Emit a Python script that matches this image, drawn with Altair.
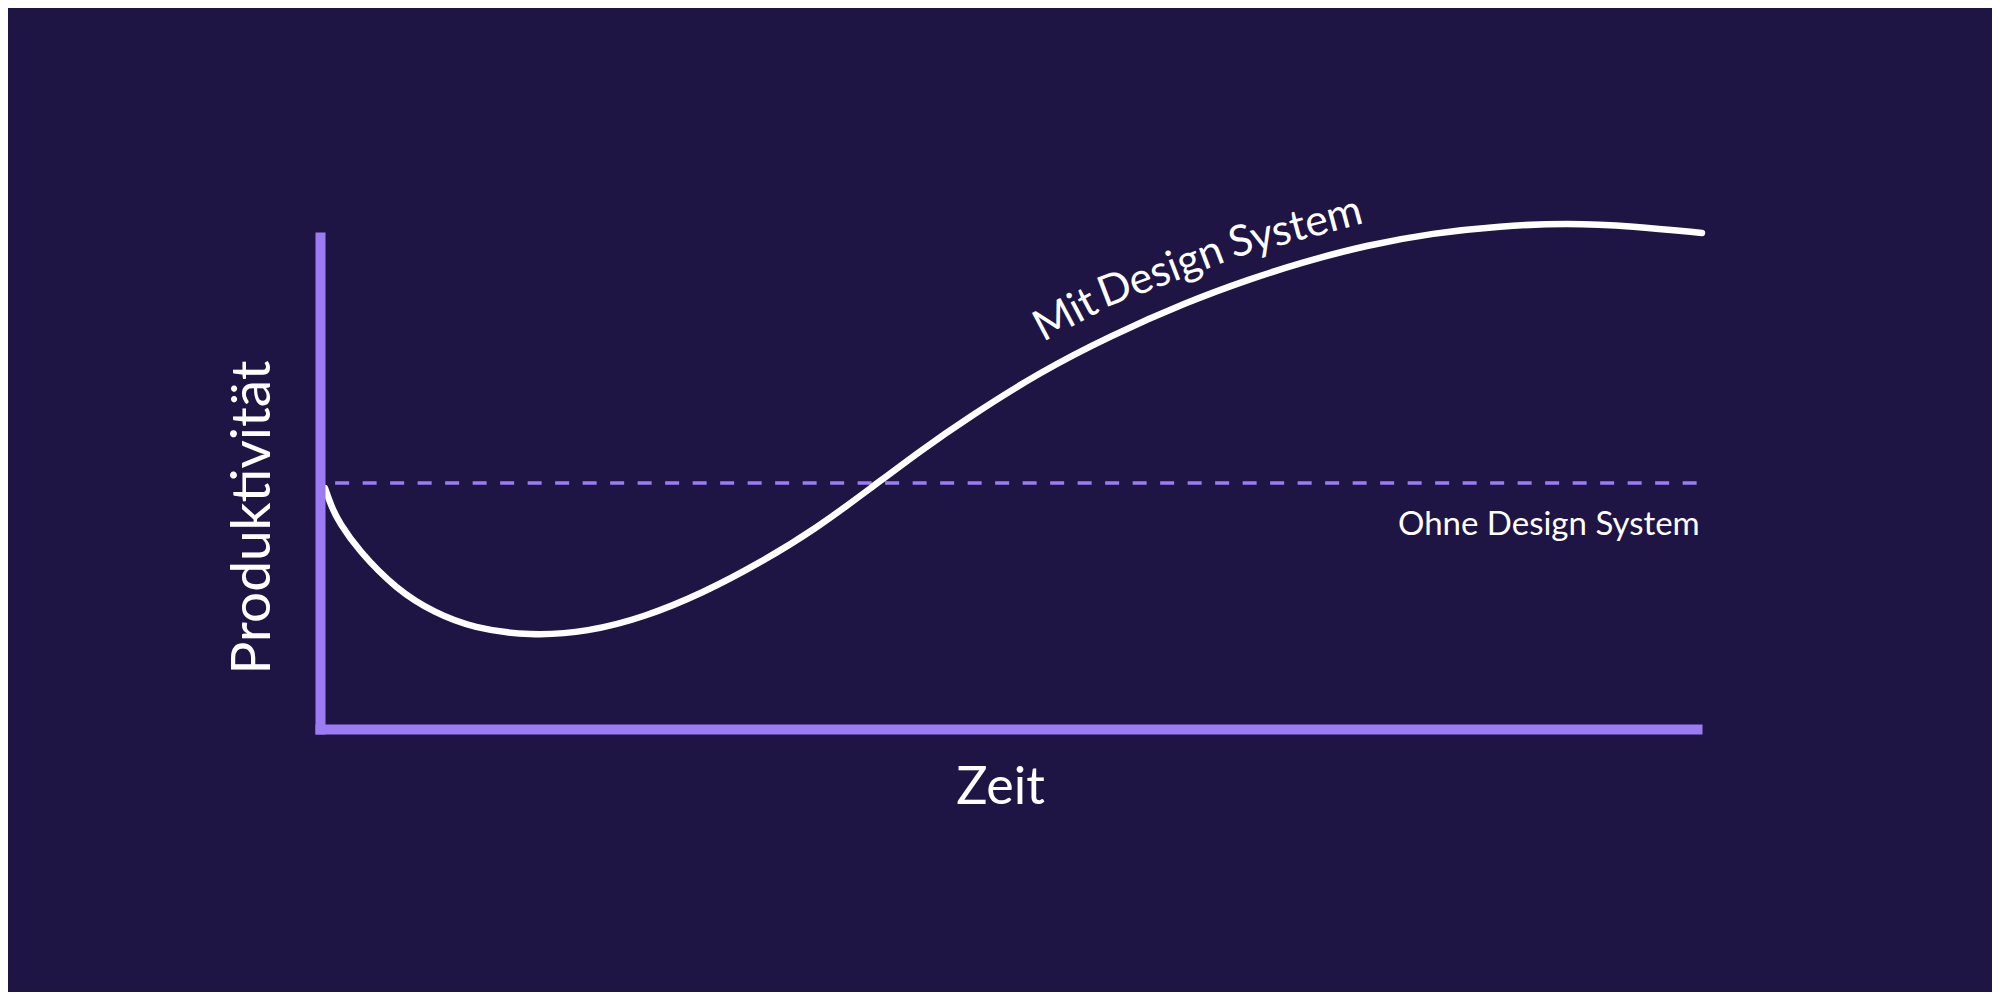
import altair as alt
import pandas as pd

# "Mit Design System" curve (Zeit vs. Produktivität, arbitrary 0-100 units)
zeit = [0.36, 0.87, 1.38, 2.76, 5.59, 8.35, 11.11, 15.25, 19.46, 23.60, 27.81, 31.95,
        36.09, 40.01, 43.57, 47.13, 52.29, 57.37, 62.96, 67.54, 71.17, 76.03, 80.83,
        85.69, 90.56, 95.35, 100.36]
produktivitaet = [48.98, 44.92, 42.07, 36.38, 28.25, 23.58, 20.53, 18.90, 19.72, 22.76,
                  27.64, 33.74, 40.85, 48.98, 56.50, 63.41, 72.56, 79.88, 86.79, 91.46,
                  94.72, 98.37, 100.81, 102.24, 102.85, 102.24, 100.81]

# "Ohne Design System" baseline level
baseline_level = [50.0]
baseline_start = [1.1]
baseline_end = [100.3]

# labels
mit_words = ["Mit", "Design", "System"]
mit_x = [54.6, 61.4, 71.1]
mit_y = [81.8, 90.3, 99.3]
mit_angle = [332, 339, 345]

ohne_text = ["Ohne Design System"]
ohne_x = [100.2]
ohne_y = [39.4]

BG = "#1E1544"
PURPLE = "#9C7CF4"
FONT = "Lato"

curve_df = pd.DataFrame({"Zeit": zeit, "Produktivität": produktivitaet})
rule_df = pd.DataFrame({"x": baseline_start, "x2": baseline_end, "y": baseline_level})
mit_df = pd.DataFrame({"t": mit_words, "x": mit_x, "y": mit_y, "a": mit_angle})
ohne_df = pd.DataFrame({"t": ohne_text, "x": ohne_x, "y": ohne_y})

xscale = alt.Scale(domain=[0, 100], nice=False, zero=False)
yscale = alt.Scale(domain=[0, 100], nice=False, zero=False)

xaxis = alt.Axis(
    title="Zeit", ticks=False, labels=False, grid=False,
    domainColor=PURPLE, domainWidth=10, domainCap="square",
    titleFont=FONT, titleFontSize=52, titleFontWeight="normal", titleColor="white",
    titlePadding=33, titleX=680, zindex=1,
)
yaxis = alt.Axis(
    title="Produktivität", ticks=False, labels=False, grid=False,
    domainColor=PURPLE, domainWidth=10, domainCap="square",
    titleFont=FONT, titleFontSize=55, titleFontWeight="normal", titleColor="white",
    titlePadding=39, titleY=280, zindex=1,
)

line = alt.Chart(curve_df).mark_line(
    color="white", strokeWidth=6.5, strokeCap="round", interpolate="basis", clip=False
).encode(
    x=alt.X("Zeit:Q", scale=xscale, axis=xaxis),
    y=alt.Y("Produktivität:Q", scale=yscale, axis=yaxis),
)

rule = alt.Chart(rule_df).mark_rule(
    color=PURPLE, strokeWidth=3.5, strokeDash=[14, 13.5]
).encode(
    x=alt.X("x:Q", scale=xscale),
    x2="x2:Q",
    y=alt.Y("y:Q", scale=yscale),
)

mit = alt.Chart(mit_df).mark_text(
    font=FONT, fontSize=43, color="white", align="center", baseline="alphabetic", clip=False
).encode(
    x=alt.X("x:Q", scale=xscale),
    y=alt.Y("y:Q", scale=yscale),
    text="t:N",
    angle=alt.Angle("a:Q", scale=None),
)

ohne = alt.Chart(ohne_df).mark_text(
    font=FONT, fontSize=33, color="white", align="right", baseline="alphabetic"
).encode(
    x=alt.X("x:Q", scale=xscale),
    y=alt.Y("y:Q", scale=yscale),
    text="t:N",
)

chart = alt.layer(rule, line, mit, ohne).properties(
    width=1377, height=492,
    autosize=alt.AutoSizeParams(type="none"),
    padding={"left": 312, "top": 229, "right": 295, "bottom": 263},
    background=BG,
).configure_view(stroke=None)

chart.save("out.html", embed_options={"renderer": "svg", "actions": False})
